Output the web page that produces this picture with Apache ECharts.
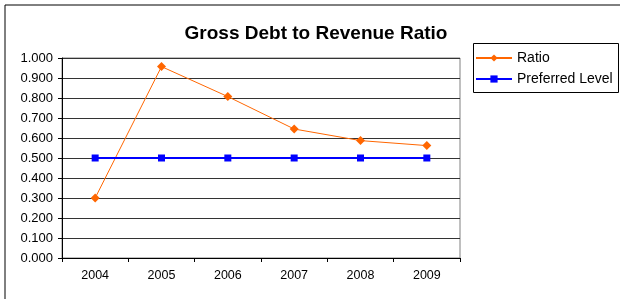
<!DOCTYPE html>
<html>
<head>
<meta charset="utf-8">
<script src="https://cdn.jsdelivr.net/npm/echarts@6/dist/echarts.min.js"></script>
<style>
  html, body { margin: 0; padding: 0; background: #fff; }
  #chart { width: 620px; height: 299px; }
</style>
</head>
<body>
<div id="chart"></div>
<script>
let years = ['2004', '2005', '2006', '2007', '2008', '2009'];
let ratio = [0.300, 0.957, 0.807, 0.645, 0.587, 0.562];
let preferred = [0.500, 0.500, 0.500, 0.500, 0.500, 0.500];

let chart = echarts.init(document.getElementById('chart'));

let option = {
    animation: false,
    textStyle: { fontFamily: 'Liberation Sans, Arial, sans-serif' },
    title: {
        text: 'Gross Debt to Revenue Ratio',
        left: 311,
        textAlign: 'center',
        top: 19,
        textStyle: { fontSize: 19, fontWeight: 'bold', color: '#000' }
    },
    legend: {
        orient: 'vertical',
        left: 473,
        top: 51,
        padding: [0, 0, 0, 2],
        itemGap: 7,
        itemWidth: 36,
        itemHeight: 9,
        textStyle: { fontSize: 14, color: '#000' },
        data: ['Ratio', 'Preferred Level']
    },
    graphic: [{
        type: 'rect',
        shape: { x: 5, y: 5, width: 700, height: 400 },
        style: { fill: 'none', stroke: '#000', lineWidth: 1 },
        silent: true
    }, {
        type: 'rect',
        shape: { x: 473.5, y: 43.5, width: 145, height: 49 },
        style: { fill: 'none', stroke: '#000', lineWidth: 1 },
        silent: true
    }],
    grid: {
        left: 62, top: 58, width: 398, height: 200,
        show: true, borderColor: '#808080', borderWidth: 1
    },
    xAxis: {
        type: 'category',
        data: years,
        axisLine: { lineStyle: { color: '#000' } },
        axisTick: { show: true, length: 4, lineStyle: { color: '#000' } },
        axisLabel: { fontSize: 12.5, color: '#000', margin: 11 }
    },
    yAxis: {
        type: 'value',
        min: 0,
        max: 1,
        interval: 0.1,
        axisLine: { show: true, lineStyle: { color: '#000' } },
        axisTick: { show: true, length: 4, lineStyle: { color: '#000' } },
        axisLabel: {
            fontSize: 13, color: '#000', margin: 9,
            formatter: function (v) { return v.toFixed(3); }
        },
        splitLine: { lineStyle: { color: '#333', width: 1 } }
    },
    series: [{
        name: 'Ratio',
        type: 'line',
        data: ratio,
        symbol: 'diamond',
        symbolSize: 9,
        itemStyle: { color: '#FF6600' },
        lineStyle: { color: '#FF6600', width: 1 }
    }, {
        name: 'Preferred Level',
        type: 'line',
        data: preferred,
        symbol: 'rect',
        symbolSize: 7,
        itemStyle: { color: '#0000FF' },
        lineStyle: { color: '#0000FF', width: 2 }
    }]
};

chart.setOption(option);
</script>
</body>
</html>
